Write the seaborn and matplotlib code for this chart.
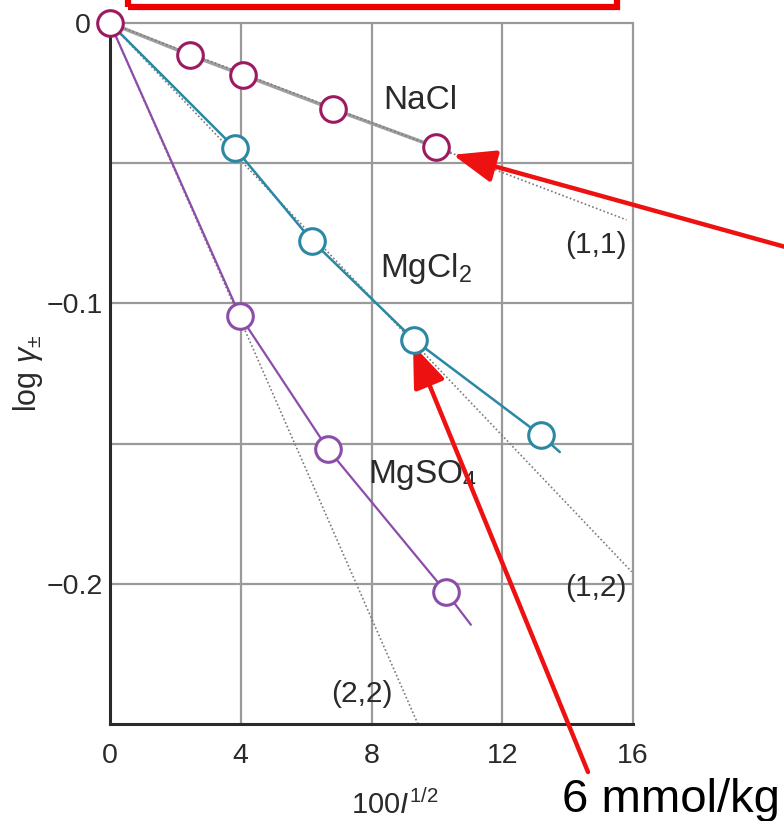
import matplotlib
matplotlib.use("Agg")
import matplotlib.pyplot as plt
import matplotlib.transforms as mtransforms
import seaborn as sns
import pandas as pd
from matplotlib.patches import Rectangle

# ---- data ----
nacl_x = [0, 2.45, 4.07, 6.82, 9.97]
nacl_y = [0, -0.0114, -0.0185, -0.0307, -0.0442]
nacl_line_x = [0, 2.45, 4.07, 6.82, 9.97, 10.4]
nacl_line_y = [0, -0.0114, -0.0185, -0.0307, -0.0442, -0.0462]

mgcl2_x = [3.82, 6.18, 9.30, 13.18]
mgcl2_y = [-0.0446, -0.0777, -0.113, -0.147]
mgcl2_line_x = [0, 3.82, 6.18, 9.30, 13.18, 13.76]
mgcl2_line_y = [0, -0.0446, -0.0777, -0.113, -0.147, -0.153]

mgso4_x = [3.98, 6.67, 10.28]
mgso4_y = [-0.1045, -0.152, -0.203]
mgso4_line_x = [0, 3.98, 6.67, 10.28, 11.04]
mgso4_line_y = [0, -0.1045, -0.152, -0.203, -0.2146]

# Debye-Hueckel limiting laws
ll11_x = [0, 15.8]
ll11_y = [0, -0.0702]
ll12_x = [0, 15.96]
ll12_y = [0, -0.1957]
ll22_x = [0, 9.42]
ll22_y = [0, -0.25]

x_ticks = [0, 4, 8, 12, 16]
x_ticklabels = ["0", "4", "8", "12", "16"]
y_ticks = [0, -0.1, -0.2]
y_ticklabels = ["0", "\u22120.1", "\u22120.2"]
y_grid = [0, -0.05, -0.1, -0.15, -0.2]

c_nacl = "#9e1a60"
c_mgcl2 = "#2a88a4"
c_mgso4 = "#8c4daa"
c_grey_line = "#a0a0a0"
c_dot = "#7a7a7a"

sns.set_theme(style="white")
plt.rcParams["font.family"] = ["Liberation Sans", "DejaVu Sans"]
plt.rcParams["mathtext.fontset"] = "custom"
plt.rcParams["mathtext.rm"] = "Liberation Sans"
plt.rcParams["mathtext.it"] = "Liberation Sans:italic"

fig = plt.figure(figsize=(7.84, 8.21), dpi=100)
ax = fig.add_axes([110 / 784, 1 - 724 / 821, (633 - 110) / 784, (724 - 23) / 821])

ax.set_xlim(0, 16)
ax.set_ylim(-0.25, 0)

# grid
for gx in [4, 8, 12, 16]:
    ax.axvline(gx, color="#9a9a9a", lw=1.6, zorder=0.5, clip_on=False)
for gy in y_grid:
    ax.axhline(gy, color="#9a9a9a", lw=1.6, zorder=0.5, clip_on=False)

# experimental curves
sns.lineplot(x=nacl_line_x, y=nacl_line_y, ax=ax, color=c_grey_line, lw=2.6,
             sort=False, estimator=None, zorder=1.5)
sns.lineplot(x=mgcl2_line_x, y=mgcl2_line_y, ax=ax, color=c_mgcl2, lw=1.8,
             sort=False, estimator=None, zorder=3)
sns.lineplot(x=mgso4_line_x, y=mgso4_line_y, ax=ax, color=c_mgso4, lw=1.6,
             sort=False, estimator=None, zorder=3)

# limiting-law dotted lines
for lx, ly in [(ll11_x, ll11_y), (ll12_x, ll12_y), (ll22_x, ll22_y)]:
    sns.lineplot(x=lx, y=ly, ax=ax, color=c_dot, lw=1.2,
                 linestyle=(0, (1, 1.4)), sort=False, estimator=None, zorder=2)

# markers
mk = dict(marker="o", s=340, facecolor="white", linewidth=2.2, zorder=5, clip_on=False)
sns.scatterplot(x=mgso4_x, y=mgso4_y, ax=ax, edgecolor=c_mgso4, **mk)
sns.scatterplot(x=mgcl2_x, y=mgcl2_y, ax=ax, edgecolor=c_mgcl2, **mk)
sns.scatterplot(x=nacl_x, y=nacl_y, ax=ax, edgecolor=c_nacl, **mk)

# series labels
lab_kw = dict(fontsize=24, color="#2a2a2a", va="baseline")
ax.text(8.35, -0.0307, "NaCl", ha="left", **lab_kw)
ax.text(8.26, -0.0906, "MgCl$_2$", ha="left", **lab_kw)
ax.text(7.89, -0.164, "MgSO$_4$", ha="left", **lab_kw)
ll_kw = dict(fontsize=21.5, color="#2a2a2a", va="baseline", ha="right")
ax.text(15.8, -0.082, "(1,1)", **ll_kw)
ax.text(15.8, -0.2045, "(1,2)", **ll_kw)
ax.text(8.65, -0.242, "(2,2)", **ll_kw)

# axes styling
ax.set_xticks(x_ticks)
ax.set_xticklabels(x_ticklabels, fontsize=20.5, color="#2a2a2a")
ax.set_yticks(y_ticks)
ax.set_yticklabels(y_ticklabels, fontsize=20.5, color="#2a2a2a")
ax.tick_params(axis="x", length=0, pad=14)
ax.tick_params(axis="y", length=0, pad=5)
# move the "0" label left so it clears the origin marker
for tick in ax.yaxis.get_major_ticks():
    if abs(tick.get_loc()) < 1e-9:
        tick.label1.set_transform(tick.label1.get_transform() +
                                  mtransforms.ScaledTranslation(-0.12, 0, fig.dpi_scale_trans))
for side in ["left", "bottom"]:
    ax.spines[side].set_color("#2a2a2a")
    ax.spines[side].set_linewidth(2.2)
for side in ["top", "right"]:
    ax.spines[side].set_visible(False)
ax.set_xlabel("100$\\mathit{I}^{1/2}$", fontsize=21, color="#2a2a2a")
ax.xaxis.set_label_coords(0.545, -0.093)
ax.set_ylabel("log $\\gamma_{\\pm}$", fontsize=22, color="#2a2a2a")
ax.yaxis.set_label_coords(-0.125, 0.5)

# red annotations
fig.patches.append(Rectangle((128 / 784, 1 - 7 / 821), (617 - 128) / 784, 0.05,
                             transform=fig.transFigure, fill=False,
                             edgecolor="#ee0000", lw=4.5, clip_on=False))
arrow_kw = dict(arrowstyle="-|>,head_length=1.3,head_width=0.5",
                color="#ee1111", lw=3.2, mutation_scale=20, shrinkA=0, shrinkB=0)
ax.annotate("", xy=(10.49, -0.047), xycoords="data",
            xytext=(1.01, 0.697), textcoords="figure fraction",
            arrowprops=arrow_kw, annotation_clip=False)
ax.annotate("", xy=(9.27, -0.1148), xycoords="data",
            xytext=(588 / 784, 1 - 772 / 821), textcoords="figure fraction",
            arrowprops=arrow_kw, annotation_clip=False)
fig.text(562 / 784, 1 - 812 / 821, "6 mmol/kg", fontsize=34, color="black",
         ha="left", va="baseline")

fig.savefig("out.png", dpi=100)
